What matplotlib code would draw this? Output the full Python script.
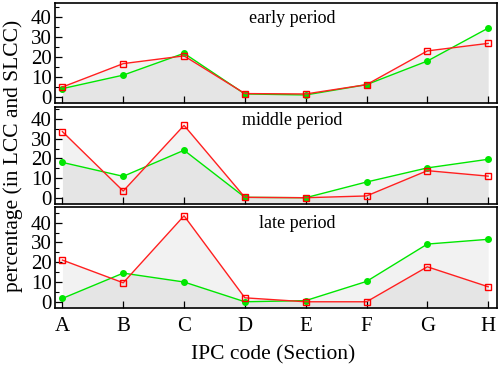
import matplotlib
matplotlib.use("Agg")
import matplotlib.pyplot as plt
from matplotlib.ticker import MultipleLocator

plt.rcParams["font.family"] = ["Liberation Serif", "DejaVu Serif"]

SECTIONS = ["A", "B", "C", "D", "E", "F", "G", "H"]
PERIODS = ["early period", "middle period", "late period"]

# green = LCC share, red = SLCC share (percent)
EARLY_GREEN = [4.0, 10.8, 21.8, 1.3, 0.8, 6.0, 17.9, 34.5]
EARLY_RED = [4.8, 16.6, 20.5, 1.5, 1.3, 6.0, 23.0, 26.8]
MIDDLE_GREEN = [18.0, 10.9, 24.2, 0.2, 0.0, 8.0, 15.2, 19.6]
MIDDLE_RED = [33.7, 3.4, 36.9, 0.2, 0.0, 0.9, 13.8, 11.0]
LATE_GREEN = [1.7, 14.5, 10.0, 0.0, 0.6, 10.3, 29.2, 31.6]
LATE_RED = [21.1, 9.6, 43.5, 2.0, 0.0, 0.0, 17.7, 7.6]

GREENS = [EARLY_GREEN, MIDDLE_GREEN, LATE_GREEN]
REDS = [EARLY_RED, MIDDLE_RED, LATE_RED]
LABEL_X = [3.78, 3.77, 3.86]

W, H = 500, 369
fig = plt.figure(figsize=(W / 100, H / 100), dpi=100)

# panel extents in pixels (top, bottom)
panels = [(2.7, 103.3), (106.7, 204.0), (207.3, 308.3)]
left, right = 54.5, 497.3
ylims = [(-3.4, 47.3), (-3.2, 46.4), (-3.3, 47.8)]

x = list(range(len(SECTIONS)))
for i, (top, bot) in enumerate(panels):
    ax = fig.add_axes([left / W, 1 - bot / H, (right - left) / W, (bot - top) / H])
    lo, hi = ylims[i]
    g, r = GREENS[i], REDS[i]
    ax.fill_between(x, lo, g, color="black", alpha=0.05, lw=0)
    ax.fill_between(x, lo, r, color="black", alpha=0.05, lw=0)
    ax.plot(x, g, color="#00e600", lw=1.0, marker="o", ms=4,
            mfc="#00e600", mec="#00e600")
    ax.plot(x, r, color="#ff2020", lw=1.0, marker="s", ms=5,
            mfc="none", mec="#ff0000", mew=1.0)
    ax.text(LABEL_X[i], 39.5, PERIODS[i], ha="center", va="center", fontsize=13)
    ax.set_xlim(-0.13, 7.15)
    ax.set_ylim(lo, hi)
    ax.yaxis.set_minor_locator(MultipleLocator(5))
    ax.set_yticks([0, 10, 20, 30, 40])
    ax.set_xticks(x)
    ax.tick_params(axis="both", which="both", direction="in", top=False, right=False)
    ax.tick_params(axis="y", which="major", length=5, width=0.9, labelsize=15, pad=2)
    ax.tick_params(axis="y", which="minor", length=3, width=0.8)
    ax.tick_params(axis="x", which="major", length=5, width=0.9, labelsize=15, pad=6)
    for s in ax.spines.values():
        s.set_linewidth(1.2)
    if i < 2:
        ax.set_xticklabels([])
    else:
        ax.set_xticklabels(SECTIONS)

fig.text(273 / W, 1 - 355 / H, "IPC code (Section)", ha="center", va="center", fontsize=15.5)
fig.text(13 / W, 1 - 156 / H, "percentage (in LCC and SLCC)", ha="center", va="center",
         rotation=90, fontsize=15.5)

fig.savefig("out.png", dpi=100)
